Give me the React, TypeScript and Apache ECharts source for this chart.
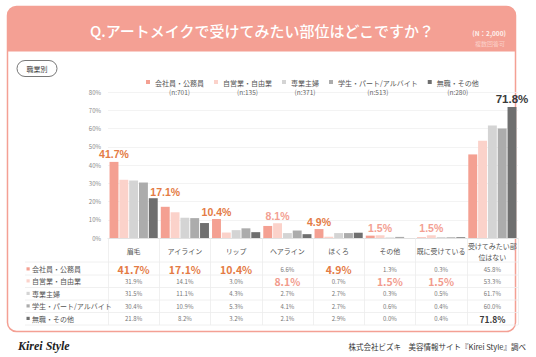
import React, { useEffect, useRef } from 'react';
import * as echarts from 'echarts';

const categories = ['眉毛', 'アイライン', 'リップ', 'ヘアライン', 'ほくろ', 'その他', '既に受けている', '受けてみたい部位はない'];
const seriesNames = ['会社員・公務員', '自営業・自由業', '専業主婦', '学生・パート/アルバイト', '無職・その他'];
const sampleSizes = ['n:701', 'n:135', 'n:371', 'n:513', 'n:280'];
const kaishain = [41.7, 17.1, 10.4, 6.6, 4.9, 1.3, 0.3, 45.8];
const jieigyo = [31.9, 14.1, 3.0, 8.1, 0.7, 1.5, 1.5, 53.3];
const sengyo = [31.5, 11.1, 4.3, 2.7, 2.7, 0.3, 0.5, 61.7];
const gakusei = [30.4, 10.9, 5.3, 4.1, 2.7, 0.6, 0.4, 60.0];
const mushoku = [21.8, 8.2, 3.2, 2.1, 2.9, 0.0, 0.4, 71.8];
const allSeries = [kaishain, jieigyo, sengyo, gakusei, mushoku];
const yMax = 80;
const yInterval = 10;
const titleText = 'Q.アートメイクで受けてみたい部位はどこですか？';
const nText = '(N：2,000)';
const multiText = '複数回答可';
const segmentText = '職業別';
const sourceText = '株式会社ビズキ　美容情報サイト『Kirei Style』調べ';
const logoText = 'Kirei Style';

const FONT = '"Noto Sans CJK JP", "Noto Sans", sans-serif';
const colors = ['#f4a092', '#fbd2ca', '#d4d4d4', '#acacac', '#6f6f6f'];
const hlColors = ['#e47b45', '#f29b8d', '#e47b45', '#e47b45', '#3a3a3a'];
const ACCENT = '#f4a094';

const isMax = (s: number, i: number) => {
  const vals = allSeries.map((a) => a[i]);
  return allSeries[s][i] === Math.max(...vals);
};

export default function App() {
  const ref = useRef<HTMLDivElement>(null);
  useEffect(() => {
    if (!ref.current) return;
    const chart = echarts.init(ref.current, undefined, { renderer: 'svg' });

    const gridTop = 92;
    const gridBottomY = 238;
    const gridLeft = 108;
    const gridRight = 518;
    const rowCenters = [269, 281, 293.5, 306, 318.5];
    const hLines = [262, 275, 287.5, 300, 312.5, 325];

    const tableAxes = allSeries.map((arr, s) => ({
      type: 'category',
      data: categories,
      position: 'bottom',
      gridIndex: 0,
      axisLine: { show: false },
      axisTick: { show: false },
      axisLabel: {
        interval: 0,
        margin: rowCenters[s] - gridBottomY,
        verticalAlign: 'middle',
        formatter: (_v: string, idx: number) => {
          const t = arr[idx].toFixed(1) + '%';
          return isMax(s, idx) ? `{h${s}|${t}}` : `{n|${t}}`;
        },
        rich: {
          n: { fontSize: 6, color: '#777', fontFamily: FONT },
          h0: { fontSize: 10.5, fontWeight: 'bold', color: hlColors[0], fontFamily: FONT },
          h1: { fontSize: 10.5, fontWeight: 'bold', color: hlColors[1], fontFamily: FONT },
          h2: { fontSize: 10.5, fontWeight: 'bold', color: hlColors[2], fontFamily: FONT },
          h3: { fontSize: 10.5, fontWeight: 'bold', color: hlColors[3], fontFamily: FONT },
          h4: { fontSize: 8.5, fontWeight: 'bold', color: hlColors[4], fontFamily: FONT },
        },
      },
    }));

    const graphic: any[] = [
      {
        type: 'rect', z: 0,
        shape: { x: 7.5, y: 6.5, width: 508, height: 325, r: 9 },
        style: { fill: '#fff', stroke: ACCENT, lineWidth: 1.5 },
      },
      {
        type: 'rect', z: 1,
        shape: { x: 7.5, y: 6.5, width: 508, height: 45, r: [9, 9, 0, 0] },
        style: { fill: ACCENT },
      },
      {
        type: 'text', z: 2, x: 262, y: 30,
        style: { text: titleText, fill: '#fff', fontSize: 15, fontWeight: 500, fontFamily: FONT, align: 'center', verticalAlign: 'middle' },
      },
      {
        type: 'text', z: 2, x: 506, y: 33,
        style: { text: nText, fill: '#fdf0ec', fontSize: 6.5, fontWeight: 'bold', fontFamily: FONT, align: 'right', verticalAlign: 'middle' },
      },
      {
        type: 'text', z: 2, x: 505, y: 43.5,
        style: { text: multiText, fill: '#fbd0c8', fontSize: 6, fontFamily: FONT, align: 'right', verticalAlign: 'middle' },
      },
      {
        type: 'rect', z: 2,
        shape: { x: 17, y: 60.5, width: 40, height: 16, r: 8 },
        style: { fill: '#fff', stroke: '#555', lineWidth: 0.8 },
      },
      {
        type: 'text', z: 3, x: 37, y: 68.5,
        style: { text: segmentText, fill: '#444', fontSize: 7, fontFamily: FONT, align: 'center', verticalAlign: 'middle' },
      },
      {
        type: 'text', z: 2, x: 526, y: 346,
        style: { text: sourceText, fill: '#333', fontSize: 7.5, fontFamily: FONT, align: 'right', verticalAlign: 'middle' },
      },
      {
        type: 'text', z: 2, x: 18, y: 346,
        style: { text: logoText, fill: '#222', fontSize: 12, fontStyle: 'italic', fontWeight: 'bold', fontFamily: '"Liberation Serif", "DejaVu Serif", serif', align: 'left', verticalAlign: 'middle' },
      },
    ];
    hLines.forEach((y) => {
      graphic.push({
        type: 'line', z: 2,
        shape: { x1: 25, y1: y, x2: gridRight, y2: y },
        style: { stroke: '#ececec', lineWidth: 0.8 },
      });
    });
    seriesNames.forEach((name, s) => {
      graphic.push({
        type: 'rect', z: 3,
        shape: { x: 26.5, y: rowCenters[s] - 1.7, width: 3.2, height: 3.2 },
        style: { fill: colors[s] },
      });
      graphic.push({
        type: 'text', z: 3, x: 32, y: rowCenters[s],
        style: { text: name, fill: '#555', fontSize: 7, fontFamily: FONT, align: 'left', verticalAlign: 'middle' },
      });
    });

    const option: any = {
      animation: false,
      backgroundColor: '#fff',
      color: colors,
      graphic,
      legend: {
        left: 146,
        top: 78,
        padding: 0,
        itemWidth: 4,
        itemHeight: 14,
        itemGap: 10,
        icon: 'path://M0,0L4,0L4,4L0,4Z M0,14L4,14',
        textStyle: {
          fontFamily: FONT, fontSize: 7, color: '#555', lineHeight: 9,
          rich: {
            a: { fontSize: 7, color: '#555', fontFamily: FONT, align: 'left', lineHeight: 9 },
            b: { fontSize: 6.5, color: '#666', fontFamily: FONT, align: 'center', lineHeight: 9 },
          },
        },
        formatter: (name: string) => {
          const i = seriesNames.indexOf(name);
          return `{a|${name}}\n{b|(${sampleSizes[i]})}`;
        },
        data: seriesNames,
      },
      grid: {
        left: gridLeft,
        right: 536 - gridRight,
        top: gridTop,
        bottom: 357 - gridBottomY,
        containLabel: false,
        outerBoundsMode: 'none',
      },
      xAxis: [
        {
          type: 'category',
          data: categories,
          position: 'bottom',
          gridIndex: 0,
          axisLine: { show: true, lineStyle: { color: '#dcdcdc', width: 0.8 } },
          axisTick: { show: true, length: 87, lineStyle: { color: '#ececec', width: 0.8 } },
          axisLabel: {
            interval: 0,
            margin: 13,
            verticalAlign: 'middle',
            fontSize: 7,
            color: '#555',
            fontFamily: FONT,
            lineHeight: 11,
            formatter: (v: string) => (v.length > 7 ? v.slice(0, 7) + '\n' + v.slice(7) : v),
          },
        },
        ...tableAxes,
      ],
      yAxis: {
        type: 'value',
        min: 0,
        max: yMax,
        interval: yInterval,
        axisLine: { show: false },
        axisTick: { show: false },
        axisLabel: { fontSize: 6, color: '#888', fontFamily: FONT, margin: 7, formatter: '{value}%' },
        splitLine: { lineStyle: { color: '#f0f0f0', width: 0.8 } },
      },
      series: allSeries.map((arr, s) => ({
        name: seriesNames[s],
        type: 'bar',
        xAxisIndex: 0,
        barGap: '10%',
        barCategoryGap: '6%',
        itemStyle: { color: colors[s] },
        label: { show: false },
        data: arr.map((v, i) =>
          isMax(s, i)
            ? {
                value: v,
                label: {
                  show: true,
                  position: 'top',
                  distance: s === 0 && i === 1 ? 9 : 2,
                  formatter: (p: any) => p.value.toFixed(1) + '%',
                  fontSize: s === 4 ? 11.5 : 10.5,
                  fontWeight: 'bold',
                  fontFamily: '"Liberation Sans", Arial, sans-serif',
                  color: s === 1 ? '#f3a092' : hlColors[s],
                },
              }
            : v
        ),
      })),
    };
    chart.setOption(option);
    return () => chart.dispose();
  }, []);
  return <div ref={ref} style={{ position: 'fixed', left: 0, top: 0, width: 536, height: 357 }} />;
}
